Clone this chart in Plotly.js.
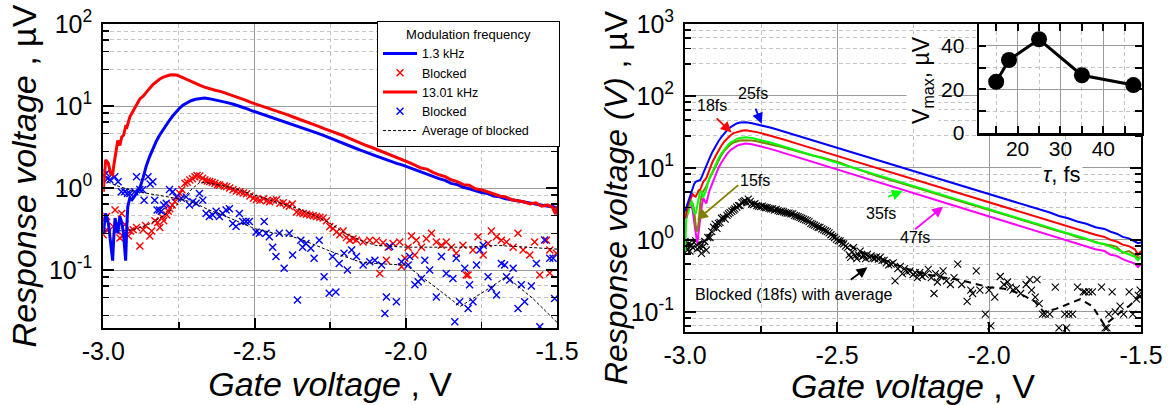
<!DOCTYPE html>
<html><head><meta charset="utf-8">
<script src="https://cdn.plot.ly/plotly-3.0.1.min.js"></script>
<style>html,body{margin:0;padding:0;background:#fff}#chart{width:1168px;height:405px}</style>
</head><body><div id="chart"></div>
<script>
// ---------- LEFT PANEL DATA ----------
const gateL = [-3.000,-2.996,-2.992,-2.987,-2.983,-2.976,-2.969,-2.965,-2.961,-2.957,-2.952,-2.945,-2.939,-2.933,-2.926,-2.922,-2.919,-2.912,-2.905,-2.898,-2.890,-2.879,-2.868,-2.858,-2.847,-2.836,-2.825,-2.814,-2.803,-2.792,-2.781,-2.770,-2.759,-2.748,-2.737,-2.724,-2.710,-2.695,-2.680,-2.665,-2.650,
-2.630,-2.610,-2.590,-2.570,-2.550,-2.530,-2.510,-2.490,-2.470,-2.450,-2.430,-2.410,-2.390,-2.370,-2.350,-2.330,-2.310,-2.290,-2.270,-2.250,-2.230,-2.210,-2.190,-2.170,-2.150,-2.130,-2.110,-2.090,-2.070,-2.050,-2.030,-2.010,-1.990,-1.970,-1.950,-1.930,-1.910,-1.890,-1.870,-1.850,-1.830,-1.810,-1.790,-1.770,-1.750,-1.730,-1.710,-1.690,-1.670,-1.650,-1.630,-1.610,-1.590,-1.570,-1.550,-1.530,-1.515,-1.505,-1.500];
const resp1p3kHz = [0.28,0.40,0.49,0.42,0.37,0.22,0.13,0.26,0.43,0.36,0.28,0.45,0.38,0.28,0.13,0.35,0.59,0.76,0.72,0.78,0.86,1.0,1.35,1.85,2.4,3.0,3.7,4.4,5.1,5.9,6.7,7.6,8.5,9.4,10.2,10.9,11.6,12.1,12.4,12.5,12.3,
11.9,11.5,11.0,10.5,10.0,9.4,8.8,8.3,7.9,7.5,7.1,6.7,6.3,5.95,5.6,5.25,4.95,4.65,4.35,4.05,3.8,3.55,3.3,3.1,2.9,2.7,2.55,2.4,2.25,2.1,2.0,1.9,1.78,1.66,1.55,1.48,1.38,1.3,1.24,1.14,1.1,1.02,0.98,0.92,0.88,0.86,0.8,0.78,0.74,0.72,0.7,0.68,0.66,0.63,0.62,0.6,0.6,0.58,0.55];
const resp13kHz = [0.90,1.6,2.2,2.1,2.0,1.5,1.45,1.9,2.3,3.1,3.8,3.3,4.2,4.4,5.6,5.5,6.0,7.4,8.2,9.2,10.5,12.2,13.2,14.8,16.4,18.2,19.8,21.2,22.4,23.3,23.9,24.1,23.9,23.2,22.2,20.9,19.8,18.9,17.9,17.0,16.3,
15.6,15.0,14.2,13.4,12.6,11.8,11.0,10.4,9.9,9.3,8.8,8.3,7.8,7.3,6.9,6.5,6.1,5.7,5.3,5.0,4.7,4.4,4.1,3.8,3.55,3.3,3.1,2.9,2.7,2.5,2.35,2.2,2.05,1.9,1.75,1.7,1.55,1.45,1.38,1.26,1.2,1.1,1.08,0.98,0.95,0.9,0.84,0.8,0.78,0.72,0.7,0.68,0.64,0.66,0.6,0.62,0.58,0.48,0.6];

// blocked (red x) belonging to 1.3 kHz
const gateRedBlk = [-3.0,-2.995,-2.989,-2.989,-2.967,-2.961,-2.955,-2.945,-2.939,-2.935,-2.928,-2.917,-2.91,-2.901,-2.89,-2.879,-2.868,-2.86,-2.846,-2.84,-2.829,-2.82,-2.813,-2.805,-2.8,-2.79,-2.785,-2.78,-2.772,-2.763,-2.755,-2.747,-2.74,-2.73,-2.722,-2.714,-2.705,-2.697,-2.69,-2.681,-2.672,-2.664,-2.656,-2.648,-2.64,-2.631,-2.622,-2.615,-2.6,-2.592,-2.582,-2.571,-2.56,-2.548,-2.537,-2.526,-2.515,-2.504,-2.493,-2.482,-2.47,-2.46,-2.45,-2.438,-2.427,-2.416,-2.405,-2.394,-2.385,-2.375,-2.361,-2.35,-2.339,-2.328,-2.317,-2.306,-2.295,-2.284,-2.273,-2.262,-2.251,-2.24,-2.229,-2.218,-2.207,-2.196,-2.185,-2.174,
-2.163,-2.141,-2.119,-2.097,-2.086,-2.075,-2.064,-2.058,-2.042,-2.02,-2.014,-2.003,-1.992,-1.981,-1.970,-1.965,-1.948,-1.932,-1.915,-1.899,-1.882,-1.866,-1.849,-1.833,-1.811,-1.8,-1.794,-1.778,-1.761,-1.744,-1.728,-1.717,-1.700,-1.684,-1.667,-1.645,-1.629,-1.612,-1.590,-1.574,-1.557,-1.535,-1.524,-1.524,-1.502];
const respRedBlk = [0.27,0.42,0.45,0.31,0.34,0.54,0.30,0.245,0.49,0.26,0.36,0.26,0.30,0.31,0.33,0.196,0.31,0.35,0.26,0.30,0.40,0.38,0.33,0.44,0.40,0.47,0.52,0.56,0.62,0.68,0.78,0.86,0.95,1.14,1.18,1.25,1.3,1.37,1.42,1.4,1.32,1.25,1.22,1.2,1.18,1.14,1.1,1.09,1.06,1.04,1.0,0.95,0.92,0.9,0.87,0.85,0.8,0.75,0.73,0.71,0.74,0.70,0.68,0.71,0.72,0.65,0.66,0.62,0.6,0.64,0.51,0.5,0.49,0.48,0.47,0.46,0.45,0.44,0.43,0.40,0.34,0.32,0.29,0.27,0.30,0.25,0.23,0.24,
0.23,0.22,0.23,0.228,0.091,0.215,0.132,0.19,0.21,0.22,0.11,0.139,0.19,0.26,0.152,0.23,0.19,0.24,0.28,0.22,0.20,0.22,0.19,0.16,0.20,0.087,0.087,0.175,0.255,0.152,0.21,0.30,0.255,0.23,0.22,0.19,0.28,0.175,0.152,0.22,0.087,0.23,0.175,0.092,0.16];

// blocked (blue x) belonging to 13.01 kHz
const gateBlueBlk = [-2.998,-2.99,-2.985,-2.978,-2.962,-2.951,-2.94,-2.929,-2.92,-2.912,-2.896,-2.89,-2.879,-2.87,-2.865,-2.852,-2.845,-2.836,-2.830,-2.822,-2.814,-2.808,-2.800,-2.792,-2.781,-2.770,-2.759,-2.742,-2.726,-2.715,-2.704,-2.693,-2.682,-2.671,-2.660,-2.649,-2.638,-2.627,-2.616,-2.605,-2.594,-2.583,-2.572,-2.561,-2.550,-2.539,-2.528,-2.517,-2.495,-2.484,-2.468,-2.462,-2.451,-2.440,-2.429,-2.418,-2.402,-2.385,-2.374,-2.358,-2.347,-2.341,-2.330,-2.314,-2.303,-2.286,-2.270,-2.253,-2.242,-2.231,-2.220,-2.204,-2.193,
-2.179,-2.163,-2.141,-2.119,-2.102,-2.080,-2.069,-2.064,-2.053,-2.031,-2.014,-1.992,-1.987,-1.970,-1.959,-1.948,-1.937,-1.921,-1.899,-1.882,-1.866,-1.844,-1.838,-1.833,-1.822,-1.805,-1.794,-1.789,-1.778,-1.766,-1.755,-1.744,-1.728,-1.717,-1.700,-1.684,-1.673,-1.667,-1.656,-1.645,-1.629,-1.618,-1.607,-1.585,-1.568,-1.557,-1.541,-1.524,-1.513,-1.508];
const respBlueBlk = [1.44,1.51,1.31,1.26,1.37,1.19,0.90,0.90,0.86,0.86,0.90,1.37,0.96,0.95,0.71,1.37,1.12,1.19,0.71,0.54,0.54,0.52,0.62,0.65,0.96,0.90,0.78,0.75,0.78,0.62,0.68,0.65,0.86,0.71,0.49,0.45,0.47,0.52,0.45,0.49,0.54,0.56,0.37,0.34,0.49,0.39,0.39,0.39,0.29,0.28,0.39,0.28,0.255,0.19,0.146,0.28,0.105,0.28,0.152,0.043,0.23,0.19,0.21,0.184,0.139,0.23,0.083,0.052,0.146,0.054,0.12,0.16,0.1,
0.175,0.146,0.115,0.126,0.132,0.115,0.0296,0.047,0.193,0.041,0.126,0.115,0.146,0.066,0.072,0.079,0.132,0.1,0.047,0.146,0.091,0.079,0.0234,0.139,0.041,0.105,0.034,0.066,0.041,0.115,0.175,0.20,0.083,0.06,0.0496,0.12,0.115,0.083,0.0755,0.105,0.034,0.066,0.041,0.064,0.12,0.0204,0.232,0.139,0.139,0.045];

// averages of blocked (left)
const gateAvgRed = [-3.0,-2.95,-2.9,-2.85,-2.8,-2.77,-2.74,-2.71,-2.68,-2.65,-2.6,-2.55,-2.5,-2.45,-2.4,-2.35,-2.3,-2.25,-2.2,-2.15,-2.1,-2.0,-1.9,-1.8,-1.7,-1.6,-1.5];
const respAvgRed = [0.30,0.30,0.31,0.36,0.46,0.56,0.72,0.95,1.18,1.15,1.06,0.95,0.82,0.72,0.64,0.55,0.46,0.37,0.28,0.23,0.20,0.19,0.19,0.19,0.20,0.19,0.18];
const gateAvgBlue = [-3.0,-2.95,-2.9,-2.85,-2.8,-2.75,-2.7,-2.65,-2.6,-2.55,-2.5,-2.45,-2.4,-2.35,-2.3,-2.25,-2.2,-2.15,-2.1,-2.0,-1.91,-1.82,-1.74,-1.667,-1.58,-1.5];
const respAvgBlue = [1.25,1.05,0.92,0.85,0.8,0.74,0.66,0.54,0.46,0.38,0.32,0.29,0.27,0.24,0.2,0.17,0.145,0.125,0.12,0.115,0.065,0.036,0.055,0.083,0.045,0.023];

// ---------- RIGHT PANEL DATA ----------
const gateR = [-3.000,-2.995,-2.990,-2.985,-2.980,-2.975,-2.970,-2.965,-2.960,-2.955,-2.950,-2.945,-2.940,-2.930,-2.920,-2.910,-2.900,-2.890,-2.880,-2.870,-2.860,-2.850,-2.840,-2.830,-2.820,-2.810,-2.800,-2.780,-2.760,-2.740,-2.720,-2.700,-2.670,-2.640,-2.610,-2.580,-2.550,-2.520,-2.490,-2.460,-2.430,-2.400,-2.370,-2.340,-2.310,-2.280,-2.250,-2.220,-2.190,-2.160,-2.130,-2.100,-2.070,-2.040,-2.010,-1.980,-1.950,-1.920,-1.890,-1.860,-1.830,-1.800,-1.770,-1.740,-1.710,-1.680,-1.650,-1.620,-1.600,-1.580,-1.560,-1.540,-1.520,-1.510,-1.500];
const resp25fs = [2.5,2.9,3.4,4.0,4.5,5.2,6.0,6.4,6.5,6.6,6.8,7.5,8.5,10.4,13.5,16.7,20,23.5,27,30.5,34,37,39.5,41.5,42.8,43.2,43,41.8,40.2,38.3,36.4,34.4,31.5,28.8,26.3,24.0,22.0,20.1,18.4,16.8,15.4,14.1,12.9,11.8,10.8,9.9,9.0,8.3,7.6,6.9,6.35,5.8,5.3,4.85,4.45,4.05,3.7,3.4,3.1,2.85,2.6,2.4,2.15,2.0,1.8,1.68,1.5,1.42,1.3,1.22,1.1,1.05,0.95,0.9,0.92];
const resp18fs = [2.0,2.6,3.0,3.5,4.0,4.3,4.1,4.0,4.4,4.9,5.0,5.6,6.4,7.2,9.5,12,14.5,17.5,20.5,23.5,26,28.5,30.5,31.5,32.5,33.2,33.3,32.4,31.2,29.7,28.2,26.7,24.4,22.3,20.4,18.6,17.0,15.6,14.3,13.0,11.9,10.9,10.0,9.15,8.4,7.65,7.0,6.45,5.9,5.35,4.9,4.5,4.1,3.75,3.45,3.15,2.85,2.65,2.4,2.2,2.0,1.85,1.68,1.55,1.4,1.3,1.18,1.1,1.0,0.95,0.86,0.82,0.74,0.62,0.7];
const resp35fs = [0.7,2.5,2.3,3.0,3.6,3.0,2.4,2.3,3.0,4.0,4.9,4.6,3.9,5.0,7.3,8.8,11,13.5,16,18.5,20.5,22.5,24,25.2,26,26.5,26.6,26.0,25.0,23.8,22.6,21.4,19.6,17.9,16.3,14.9,13.6,12.5,11.4,10.4,9.55,8.75,8.0,7.3,6.7,6.15,5.6,5.15,4.7,4.3,3.95,3.6,3.3,3.0,2.76,2.5,2.3,2.1,1.92,1.77,1.62,1.48,1.34,1.24,1.12,1.04,0.92,0.88,0.8,0.74,0.68,0.64,0.58,0.52,0.58];
const resp15fs = [2.2,2.3,2.6,3.2,3.4,3.2,2.6,1.6,1.3,1.8,3.2,4.3,4.8,5.5,7.0,8.5,10.5,12.8,15.2,17.5,19.5,21.3,22.6,23.5,24.0,24.2,24.2,24.0,23.3,22.4,21.4,20.4,18.9,17.4,16.0,14.9,14.0,13.0,11.8,10.5,9.4,8.6,7.8,7.1,6.5,6.0,5.45,5.0,4.6,4.2,3.85,3.5,3.2,2.95,2.7,2.45,2.25,2.05,1.88,1.72,1.58,1.45,1.32,1.22,1.1,1.02,0.94,0.86,0.84,0.8,0.66,0.7,0.62,0.56,0.58];
const resp47fs = [2.2,2.0,2.5,3.2,3.0,2.6,1.8,1.2,0.9,1.3,2.1,3.0,3.8,3.2,4.8,6.2,8.0,10,12,14,16,17.8,19.2,20.3,21.0,21.6,21.8,21.4,20.5,19.5,18.4,17.4,15.9,14.5,13.3,12.2,11.1,10.2,9.3,8.5,7.8,7.1,6.5,5.95,5.45,4.95,4.5,4.1,3.75,3.4,3.1,2.85,2.6,2.4,2.2,2.0,1.83,1.68,1.53,1.4,1.28,1.18,1.06,0.97,0.9,0.82,0.74,0.7,0.62,0.6,0.54,0.5,0.47,0.42,0.46];

const gateBlk18 = [-3.0,-2.997,-2.992,-2.988,-2.984,-2.98,-2.975,-2.97,-2.965,-2.96,-2.955,-2.951,-2.946,-2.94,-2.935,-2.93,-2.925,-2.918,-2.912,-2.906,-2.901,-2.895,-2.89,-2.885,-2.88,-2.874,-2.868,-2.862,-2.857,-2.852,-2.846,-2.84,-2.836,-2.83,-2.824,-2.819,-2.813,-2.808,-2.803,-2.797,-2.792,-2.786,-2.781,-2.775,-2.77,-2.764,-2.758,-2.752,-2.746,-2.74,-2.735,-2.73,-2.724,-2.718,-2.712,-2.706,-2.7,-2.694,-2.688,-2.682,-2.676,-2.67,-2.664,-2.658,-2.652,-2.646,-2.64,-2.634,-2.628,-2.622,-2.616,-2.61,-2.604,-2.598,-2.592,-2.586,-2.58,-2.574,-2.568,-2.562,-2.556,-2.55,-2.544,-2.538,-2.532,-2.526,-2.52,-2.514,-2.508,-2.502,-2.496,-2.49,-2.484,-2.478,-2.472,-2.466,-2.46,-2.455,-2.45,-2.446,-2.44,-2.435,-2.43,-2.424,-2.418,-2.412,-2.406,-2.4,-2.394,-2.388,-2.382,-2.376,-2.37,-2.364,-2.358,-2.352,-2.345,-2.338,-2.33,-2.322,-2.315,-2.309,-2.3,-2.292,-2.285,-2.278,-2.27,-2.26,-2.25,-2.243,-2.236,-2.228,-2.22,-2.21,-2.2,-2.19,-2.181,-2.176,-2.17,-2.16,-2.151,-2.14,-2.127,-2.115,-2.103,-2.09,-2.072,-2.06,-2.054,-2.042,-2.03,-2.012,-2.0,-1.994,-1.981,-1.963,-1.951,-1.939,-1.93,-1.921,-1.91,-1.896,-1.878,-1.866,-1.86,-1.848,-1.842,-1.835,-1.824,-1.815,-1.8,-1.782,-1.77,-1.751,-1.745,-1.738,-1.725,-1.709,-1.69,-1.684,-1.672,-1.66,-1.63,-1.618,-1.612,-1.606,-1.595,-1.585,-1.569,-1.557,-1.539,-1.527,-1.515,-1.509,-1.503];
const respBlk18 = [0.95,0.8,0.72,0.88,0.70,0.85,0.78,0.92,0.97,0.75,0.88,0.78,0.65,0.81,0.95,0.72,1.08,1.08,1.3,1.5,1.66,1.45,1.7,1.75,2.0,2.05,1.95,2.2,2.3,2.4,2.5,2.6,2.7,2.85,3.0,3.0,3.3,3.4,3.5,3.3,3.7,3.4,3.15,3.1,3.2,3.0,2.95,2.9,2.95,2.85,2.8,2.8,2.75,2.7,2.7,2.6,2.65,2.55,2.5,2.5,2.45,2.4,2.35,2.35,2.3,2.3,2.2,2.15,2.1,2.05,2.0,1.95,1.9,1.85,1.8,1.7,1.65,1.6,1.55,1.5,1.49,1.42,1.38,1.34,1.3,1.25,1.18,1.12,1.08,1.02,0.98,0.97,0.9,0.88,0.82,0.78,0.62,0.57,0.68,0.78,0.6,0.55,0.62,0.7,0.58,0.6,0.55,0.63,0.57,0.6,0.56,0.55,0.58,0.54,0.57,0.52,0.52,0.48,0.45,0.46,0.48,0.27,0.4,0.43,0.34,0.40,0.36,0.37,0.33,0.35,0.30,0.35,0.31,0.33,0.39,0.3,0.18,0.34,0.26,0.31,0.37,0.27,0.24,0.3,0.46,0.24,0.14,0.2,0.18,0.37,0.2,0.093,0.2,0.064,0.16,0.31,0.24,0.26,0.22,0.2,0.21,0.18,0.24,0.28,0.2,0.16,0.28,0.13,0.093,0.093,0.093,0.22,0.06,0.093,0.06,0.093,0.093,0.22,0.19,0.19,0.19,0.19,0.22,0.06,0.06,0.093,0.19,0.1,0.12,0.093,0.19,0.093,0.15,0.17,0.2];
const gateAvg18 = [-3.0,-2.97,-2.94,-2.91,-2.88,-2.85,-2.82,-2.79,-2.75,-2.7,-2.65,-2.6,-2.55,-2.5,-2.45,-2.4,-2.35,-2.3,-2.25,-2.2,-2.15,-2.1,-2.05,-2.0,-1.95,-1.9,-1.85,-1.82,-1.78,-1.74,-1.7,-1.66,-1.62,-1.58,-1.54,-1.5];
const respAvg18 = [0.85,0.88,0.95,1.35,1.9,2.6,3.2,3.4,3.0,2.6,2.25,1.85,1.45,1.1,0.8,0.62,0.54,0.44,0.37,0.33,0.3,0.28,0.25,0.22,0.21,0.18,0.14,0.1,0.11,0.13,0.15,0.12,0.065,0.09,0.12,0.17];

// ---------- INSET DATA ----------
const pulseFs = [15, 18, 25, 35, 47];
const vmax = [23.5, 33.5, 43, 26.5, 22];

// ---------- STYLE HELPERS ----------
const FONT = 'Liberation Sans, Arial, sans-serif';
const MAJ = '#9a9a9a', MIN = '#c4c4c4';
const ylogMinor = [0.028,0.046,0.064,0.082,0.28,0.46,0.64,0.82,2.8,4.6,6.4,8.2,28,46,64,82,280,460,640,820];
function xMain(dom, anchor) {
  return {domain: dom, anchor: anchor, range: [-3, -1.5], tickmode: 'array', tickvals: [-3, -2.5, -2, -1.5],
    ticktext: ['-3.0', '-2.5', '-2.0', '-1.5'], ticks: 'inside', ticklen: 10, tickwidth: 2, tickcolor: '#000',
    showline: true, linewidth: 2, linecolor: '#000', mirror: true, zeroline: false,
    showgrid: true, gridcolor: MAJ, gridwidth: 1,
    minor: {tickmode: 'array', tickvals: [-2.75, -2.25, -1.75], ticks: 'inside', ticklen: 6, tickwidth: 1.5, tickcolor: '#000', showgrid: true, gridcolor: MIN, griddash: '4px,3px', gridwidth: 1},
    tickfont: {size: 25, family: FONT, color: '#000'},
    title: {text: '<i>Gate voltage</i> , V', font: {size: 34, family: FONT, color: '#000'}, standoff: 2}};
}
function yMain(dom, anchor, range, vals, txt, title) {
  return {domain: dom, anchor: anchor, type: 'log', range: range, tickmode: 'array', tickvals: vals, ticktext: txt,
    ticks: 'inside', ticklen: 11, tickwidth: 2, tickcolor: '#000', showline: true, linewidth: 2, linecolor: '#000',
    mirror: 'allticks', zeroline: false, showgrid: true, gridcolor: MAJ, gridwidth: 1,
    minor: {tickmode: 'array', tickvals: ylogMinor, ticks: 'inside', ticklen: 6, tickwidth: 1.5, tickcolor: '#000', showgrid: true, gridcolor: MIN, griddash: '4px,3px', gridwidth: 1},
    tickfont: {size: 25, family: FONT, color: '#000'}, ticklabelstandoff: 4,
    title: {text: title, font: {size: 34, family: FONT, color: '#000'}, standoff: 2}};
}
const xmark = (c, s, w) => ({symbol: 'x-thin', size: s, color: c, line: {color: c, width: w}});
const PAD = '&nbsp;&nbsp;&nbsp;&nbsp;&nbsp;&nbsp;&nbsp;';

const traces = [
  // left panel
  {x: gateRedBlk, y: respRedBlk, mode: 'markers', name: 'Blocked', marker: xmark('#ff0000', 7, 1.4), xaxis: 'x', yaxis: 'y', legendrank: 2},
  {x: gateBlueBlk, y: respBlueBlk, mode: 'markers', name: 'Blocked', marker: xmark('#0000ff', 7, 1.4), xaxis: 'x', yaxis: 'y', legendrank: 4},
  {x: gateAvgRed, y: respAvgRed, mode: 'lines', name: 'Average of blocked' + PAD, line: {color: '#000', width: 1, dash: '3px,2px'}, xaxis: 'x', yaxis: 'y', legendrank: 5},
  {x: gateAvgBlue, y: respAvgBlue, mode: 'lines', name: 'Average of blocked', showlegend: false, line: {color: '#000', width: 1, dash: '3px,2px'}, xaxis: 'x', yaxis: 'y'},
  {x: gateL, y: resp1p3kHz, mode: 'lines', name: '1.3 kHz', line: {color: '#0000ff', width: 3}, xaxis: 'x', yaxis: 'y', legendrank: 1},
  {x: gateL, y: resp13kHz, mode: 'lines', name: '13.01 kHz', line: {color: '#ff0000', width: 3}, xaxis: 'x', yaxis: 'y', legendrank: 3},
  // right panel
  {x: gateBlk18, y: respBlk18, mode: 'markers', name: 'Blocked 18fs', showlegend: false, marker: xmark('#000', 7, 1.1), xaxis: 'x2', yaxis: 'y2'},
  {x: gateAvg18, y: respAvg18, mode: 'lines', name: 'Average 18fs', showlegend: false, line: {color: '#000', width: 2, dash: '7px,5px'}, xaxis: 'x2', yaxis: 'y2'},
  {x: gateR, y: resp47fs, mode: 'lines', name: '47fs', showlegend: false, line: {color: '#ff00ff', width: 2}, xaxis: 'x2', yaxis: 'y2'},
  {x: gateR, y: resp15fs, mode: 'lines', name: '15fs', showlegend: false, line: {color: '#808000', width: 2}, xaxis: 'x2', yaxis: 'y2'},
  {x: gateR, y: resp35fs, mode: 'lines', name: '35fs', showlegend: false, line: {color: '#00ff00', width: 2}, xaxis: 'x2', yaxis: 'y2'},
  {x: gateR, y: resp18fs, mode: 'lines', name: '18fs', showlegend: false, line: {color: '#ff0000', width: 2}, xaxis: 'x2', yaxis: 'y2'},
  {x: gateR, y: resp25fs, mode: 'lines', name: '25fs', showlegend: false, line: {color: '#0000ff', width: 2}, xaxis: 'x2', yaxis: 'y2'},
  // inset
  {x: pulseFs, y: vmax, mode: 'lines+markers', name: 'Vmax', showlegend: false, line: {color: '#000', width: 3}, marker: {color: '#000', size: 16}, xaxis: 'x3', yaxis: 'y3', cliponaxis: false}
];

const L = Math.log10;
function lbl(text, x, y) {
  return {text: text, x: x, y: L(y), xref: 'x2', yref: 'y2', xanchor: 'center', yanchor: 'middle', showarrow: false, font: {size: 16, family: FONT, color: '#000'}};
}
function arr(color, x, y, ax, ay) {
  return {text: '', x: x, y: L(y), ax: ax, ay: L(ay), xref: 'x2', yref: 'y2', axref: 'x2', ayref: 'y2', showarrow: true,
    arrowhead: 2, arrowsize: 1.2, arrowwidth: 1.8, arrowcolor: color, standoff: 0, startstandoff: 0};
}

const layout = {
  width: 1168, height: 405, margin: {l: 0, r: 0, t: 0, b: 0},
  paper_bgcolor: '#fff', plot_bgcolor: '#fff',
  font: {family: FONT, color: '#000'},
  showlegend: true,
  legend: {x: 0.3228, y: 0.948, xanchor: 'left', yanchor: 'top', bgcolor: '#fff', bordercolor: '#000', borderwidth: 1,
    font: {size: 12.5, family: FONT, color: '#000'}, tracegroupgap: 0, itemwidth: 34,
    title: {text: 'Modulation frequency', side: 'top center', font: {size: 13, family: FONT, color: '#000'}}},
  xaxis: xMain([0.0884, 0.4769], 'y'),
  yaxis: yMain([0.1901, 0.9407], 'x', [-1.707, 2], [0.1, 1, 10, 100], ['10<sup>-1</sup>', '10<sup>0</sup>', '10<sup>1</sup>', '10<sup>2</sup>'], '<i>Response voltage</i> , µV'),
  xaxis2: xMain([0.5865, 0.9769], 'y2'),
  yaxis2: yMain([0.1802, 0.9407], 'x2', [-1.28, 3], [0.1, 1, 10, 100, 1000], ['10<sup>-1</sup>', '10<sup>0</sup>', '10<sup>1</sup>', '10<sup>2</sup>', '10<sup>3</sup>'], ''),
  xaxis3: {domain: [0.8382, 0.9777], anchor: 'y3', range: [11, 49], tickmode: 'array', tickvals: [20, 30, 40],
    ticks: 'inside', ticklen: 7, tickwidth: 2, tickcolor: '#000', showline: true, linewidth: 2.5, linecolor: '#000', mirror: 'allticks',
    zeroline: false, showgrid: true, gridcolor: MAJ, gridwidth: 1,
    minor: {tickmode: 'array', tickvals: [15, 25, 35, 45], ticks: 'inside', ticklen: 7, tickwidth: 2, tickcolor: '#000', showgrid: true, gridcolor: MIN, griddash: '4px,3px'},
    tickfont: {size: 21, family: FONT, color: '#000'}, ticklabelstandoff: -5},
  yaxis3: {domain: [0.6716, 0.9407], anchor: 'x3', range: [0, 50], tickmode: 'array', tickvals: [0, 20, 40],
    ticks: 'inside', ticklen: 7, tickwidth: 2, tickcolor: '#000', showline: true, linewidth: 2.5, linecolor: '#000', mirror: 'allticks',
    zeroline: false, showgrid: true, gridcolor: MAJ, gridwidth: 1,
    minor: {tickmode: 'array', tickvals: [10, 30], ticks: 'inside', ticklen: 7, tickwidth: 2, tickcolor: '#000', showgrid: true, gridcolor: MIN, griddash: '4px,3px'},
    tickfont: {size: 21, family: FONT, color: '#000'}, ticklabelstandoff: 8},
  annotations: [
    lbl('25fs', -2.775, 107), lbl('18fs', -2.912, 74), lbl('15fs', -2.77, 6.65),
    lbl('35fs', -2.357, 2.3), lbl('47fs', -2.242, 1.09), lbl('Blocked (18fs) with average', -2.642, 0.173),
    arr('#0000ff', -2.748, 41, -2.770, 70),
    arr('#ff0000', -2.847, 31, -2.901, 51),
    arr('#808000', -2.96, 1.9, -2.82, 6.0),
    arr('#00ff00', -2.284, 4.8, -2.337, 3.9),
    arr('#ff00ff', -2.151, 2.9, -2.248, 1.35),
    arr('#000000', -2.40, 0.416, -2.46, 0.27),
    {text: '<i>Response voltage (V)</i> , µV', x: 0.5274, y: 0.511, xref: 'paper', yref: 'paper', xanchor: 'center', yanchor: 'middle',
      showarrow: false, textangle: -90, font: {size: 32, family: FONT, color: '#000'}},
    {text: '<i>τ</i>, fs', x: 0.9092, y: 0.5700, xref: 'paper', yref: 'paper', xanchor: 'center', yanchor: 'middle', showarrow: false, bgcolor: '#fff',
      font: {size: 22, family: FONT, color: '#000'}},
    {text: 'V<sub>max</sub>, µV', x: 0.7902, y: 0.8025, xref: 'paper', yref: 'paper', xanchor: 'center', yanchor: 'middle', showarrow: false, textangle: -90, bgcolor: '#fff',
      font: {size: 23, family: FONT, color: '#000'}}
  ]
};

Plotly.newPlot('chart', traces, layout, {displayModeBar: false, staticPlot: true});
</script></body></html>
